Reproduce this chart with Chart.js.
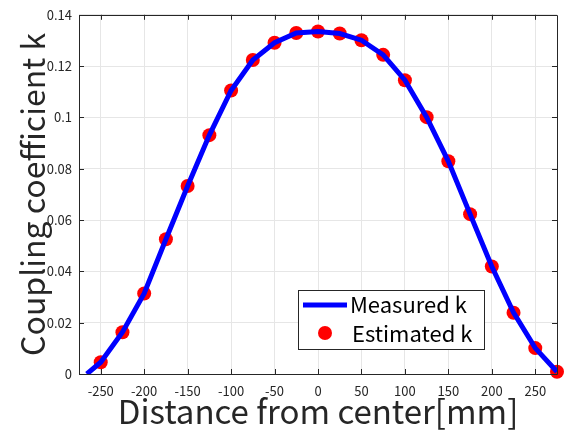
<!DOCTYPE html>
<html>
<head>
<meta charset="utf-8">
<script src="https://cdn.jsdelivr.net/npm/chart.js@4/dist/chart.umd.min.js"></script>
<style>
  html, body { margin: 0; padding: 0; background: #fff; }
  #wrap { width: 567px; height: 439px; }
</style>
</head>
<body>
<div id="wrap"><canvas id="chart" width="567" height="439"></canvas></div>
<script>
const measuredX = [-266, -250, -225, -200, -175, -150, -125, -100, -75, -50, -25, 0, 25, 50, 75, 100, 125, 150, 175, 200, 225, 250, 275];
const measuredK = [0, 0.0046, 0.0163, 0.0314, 0.0525, 0.0733, 0.0931, 0.1105, 0.1224, 0.1291, 0.1329, 0.1335, 0.1327, 0.1301, 0.1244, 0.1145, 0.1001, 0.0829, 0.0623, 0.0419, 0.0239, 0.0101, 0.0009];
const estimatedX = [-250, -225, -200, -175, -150, -125, -100, -75, -50, -25, 0, 25, 50, 75, 100, 125, 150, 175, 200, 225, 250, 275];
const estimatedK = [0.0046, 0.0163, 0.0314, 0.0525, 0.0733, 0.0931, 0.1105, 0.1224, 0.1291, 0.1329, 0.1335, 0.1327, 0.1301, 0.1244, 0.1145, 0.1001, 0.0829, 0.0623, 0.0419, 0.0239, 0.0101, 0.0009];
const seriesNames = ['Measured k', 'Estimated k'];
const xTicks = [-250, -200, -150, -100, -50, 0, 50, 100, 150, 200, 250];
const yTicks = [0, 0.02, 0.04, 0.06, 0.08, 0.1, 0.12, 0.14];

const font = '"Noto Sans CJK JP", "Noto Sans", sans-serif';
const axisColor = '#262626';

// inward tick marks on all four sides plus the box, like the original
const frame = {
    id: 'frame',
    afterDatasetsDraw(chart) {
        const {ctx, chartArea: a, scales} = chart;
        ctx.save();
        ctx.strokeStyle = axisColor;
        ctx.lineWidth = 1;
        ctx.beginPath();
        xTicks.forEach(v => {
            const px = Math.round(scales.x.getPixelForValue(v)) + 0.5;
            ctx.moveTo(px, a.bottom); ctx.lineTo(px, a.bottom - 5);
            ctx.moveTo(px, a.top); ctx.lineTo(px, a.top + 5);
        });
        yTicks.forEach(v => {
            const py = Math.round(scales.y.getPixelForValue(v)) + 0.5;
            ctx.moveTo(a.left, py); ctx.lineTo(a.left + 5, py);
            ctx.moveTo(a.right, py); ctx.lineTo(a.right - 5, py);
        });
        ctx.stroke();
        ctx.beginPath();
        ctx.rect(Math.round(a.left) + 0.5, Math.round(a.top) + 0.5, Math.round(a.right - a.left), Math.round(a.bottom - a.top));
        ctx.stroke();
        ctx.restore();
    },
    afterDraw(chart) {
        // legend box in the lower right of the plot
        const ctx = chart.ctx;
        const ds = chart.data.datasets;
        const bx = 298.5, by = 290.5, bw = 186, bh = 59;
        ctx.save();
        ctx.fillStyle = '#fff';
        ctx.fillRect(bx, by, bw, bh);
        ctx.strokeStyle = axisColor;
        ctx.lineWidth = 1;
        ctx.strokeRect(bx, by, bw, bh);
        ctx.strokeStyle = ds[0].borderColor;
        ctx.lineWidth = 5;
        ctx.beginPath();
        ctx.moveTo(303, 305); ctx.lineTo(347, 305);
        ctx.stroke();
        ctx.fillStyle = ds[1].backgroundColor;
        ctx.beginPath();
        ctx.arc(325, 333, 7, 0, Math.PI * 2);
        ctx.fill();
        ctx.fillStyle = '#000';
        ctx.font = '22px ' + font;
        ctx.textBaseline = 'middle';
        ctx.fillText(ds[0].label, 350, 305);
        ctx.fillText(ds[1].label, 352, 334);
        ctx.restore();
    }
};

new Chart(document.getElementById('chart'), {
    type: 'scatter',
    plugins: [frame],
    data: {
        datasets: [{
            label: seriesNames[0],
            data: measuredX.map((x, i) => ({x: x, y: measuredK[i]})),
            showLine: true,
            borderColor: '#0000ff',
            borderWidth: 5,
            pointRadius: 0,
            tension: 0
        }, {
            label: seriesNames[1],
            data: estimatedX.map((x, i) => ({x: x, y: estimatedK[i]})),
            showLine: false,
            backgroundColor: '#ff0000',
            borderColor: '#ff0000',
            pointRadius: 7,
            borderWidth: 0,
            clip: false
        }]
    },
    options: {
        responsive: false,
        animation: false,
        layout: {padding: {top: 6, right: 10, left: 0, bottom: 0}},
        plugins: {legend: {display: false}, tooltip: {enabled: false}},
        scales: {
            x: {
                type: 'linear',
                min: -275,
                max: 275,
                afterBuildTicks: s => { s.ticks = xTicks.map(v => ({value: v})); },
                afterFit: s => { s.height = 65; },
                grid: {color: '#e6e6e6', drawTicks: false},
                border: {display: false},
                ticks: {color: axisColor, padding: 9, font: {family: font, size: 13}, callback: v => String(v)},
                title: {display: true, text: 'Distance from center[mm]', color: axisColor,
                        font: {family: font, size: 33}, padding: {top: 0, bottom: 8}}
            },
            y: {
                min: 0,
                max: 0.14,
                afterBuildTicks: s => { s.ticks = yTicks.map(v => ({value: v})); },
                afterFit: s => { s.width = 79; },
                grid: {color: '#e6e6e6', drawTicks: false},
                border: {display: false},
                ticks: {color: axisColor, padding: 7, font: {family: font, size: 13}, callback: v => String(+v.toFixed(2))},
                title: {display: true, text: 'Coupling coefficient k', color: axisColor,
                        font: {family: font, size: 32}, padding: {top: 14, bottom: 0}}
            }
        }
    }
});
</script>
</body>
</html>
